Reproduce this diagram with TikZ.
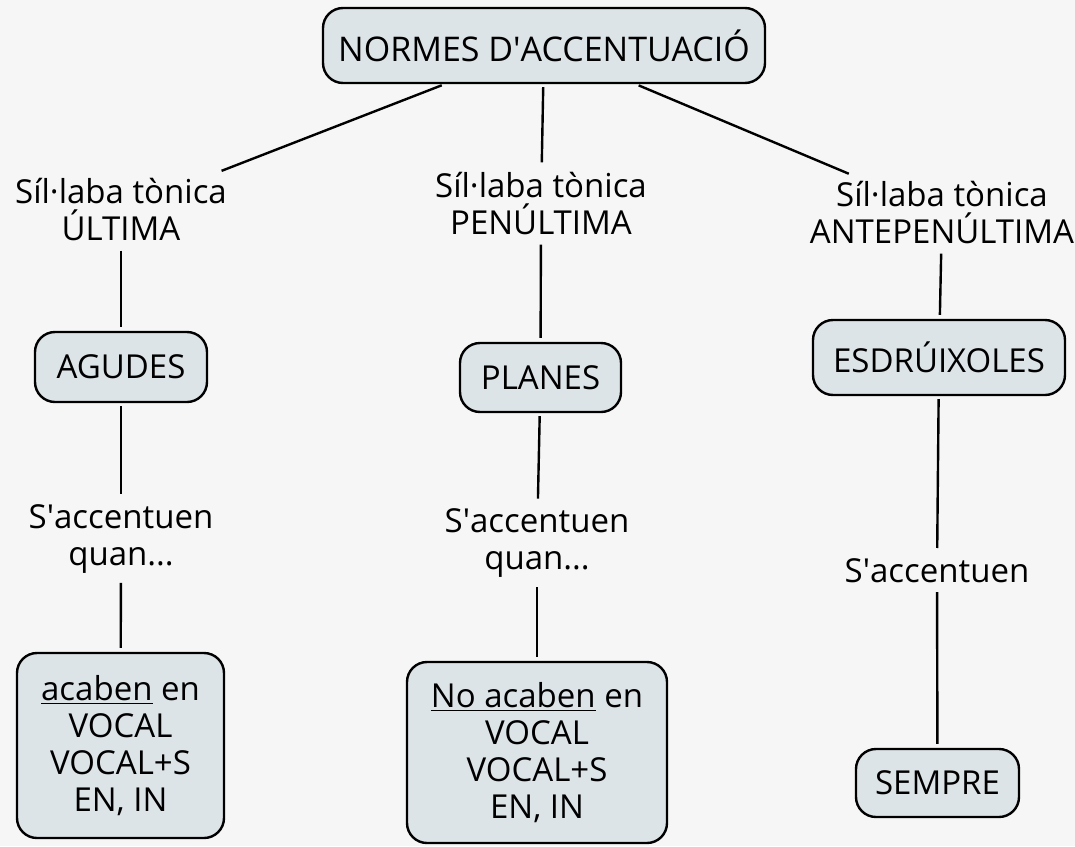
\documentclass[tikz,border=0pt]{standalone}
\usepackage{fontspec}
\setmainfont{Open Sans}
\usepackage{xcolor}
\usepackage{tikz}
\usetikzlibrary{arrows}
\definecolor{boxfill}{HTML}{DDE4E8}
\definecolor{paper}{HTML}{F6F6F6}
\tikzset{
    treenode/.style = {align=center, inner sep=3pt, text centered, font=\fontsize{16.5}{18.5}\selectfont},
    concept_node/.style = {treenode, rectangle, rounded corners=10pt, draw=black, fill=boxfill, line width=1.2pt},
    link_text/.style = {treenode},
    link_line/.style = {line width=1.2pt, shorten >=2pt, shorten <=1.5pt}
}

\begin{document}
\begin{tikzpicture}
            [-,>=stealth', x=0.5pt, y=-0.5pt]

            \fill [paper] (0,0) rectangle (1075,846);
            \useasboundingbox (0,0) rectangle (1075,846);

            % root
            \node [concept_node, minimum width=221pt, minimum height=37.5pt,
                   font=\fontsize{17}{20}\selectfont] (normes) at (544,45.5) {NORMES D\textquotesingle ACCENTUACIÓ};

            % level 1: tonic syllable
            \node [link_text] (ultima) at (121,210) {Síl·laba tònica\\ÚLTIMA};
            \node [link_text] (penultima) at (541,204) {Síl·laba tònica\\PENÚLTIMA};
            \node [link_text] (antepen) at (942,213) {Síl·laba tònica\\ANTEPENÚLTIMA};

            % level 2: word types
            \node [concept_node, minimum width=86pt, minimum height=35pt] (agudes) at (121,367) {AGUDES};
            \node [concept_node, minimum width=80.5pt, minimum height=34.5pt] (planes) at (540.5,377.5) {PLANES};
            \node [concept_node, minimum width=126pt, minimum height=37.5pt] (esdruixoles) at (939,357.5) {ESDRÚIXOLES};

            % level 3
            \node [link_text] (quan_agudes) at (121,539) {S\textquotesingle accentuen\\quan...};
            \node [link_text] (quan_planes) at (537,543.5) {S\textquotesingle accentuen\\quan...};
            \node [link_text] (quan_esdr) at (937,570.5) {S\textquotesingle accentuen};

            % level 4: rules
            \node [concept_node, minimum width=103.5pt, minimum height=92.5pt] (regla_agudes) at (120.5,745.5)
                {\underline{acaben} en\\VOCAL\\VOCAL+S\\EN, IN};
            \node [concept_node, minimum width=130pt, minimum height=90.5pt] (regla_planes) at (537,752.5)
                {\underline{No acaben} en\\VOCAL\\VOCAL+S\\EN, IN};
            \node [concept_node, minimum width=81.5pt, minimum height=34pt] (sempre) at (937.5,783) {SEMPRE};

            \draw [link_line] (normes) -- (ultima);
            \draw [link_line] (normes) -- (penultima);
            \draw [link_line] (normes) -- (antepen);

            \draw [link_line] (ultima) -- (agudes);
            \draw [link_line] (agudes) -- (quan_agudes);
            \draw [link_line] (quan_agudes) -- (regla_agudes);

            \draw [link_line] (penultima) -- (planes);
            \draw [link_line] (planes) -- (quan_planes);
            \draw [link_line] (quan_planes) -- (regla_planes);

            \draw [link_line] (antepen) -- (esdruixoles);
            \draw [link_line] (esdruixoles) -- (quan_esdr);
            \draw [link_line] (quan_esdr) -- (sempre);
        \end{tikzpicture}
\end{document}
